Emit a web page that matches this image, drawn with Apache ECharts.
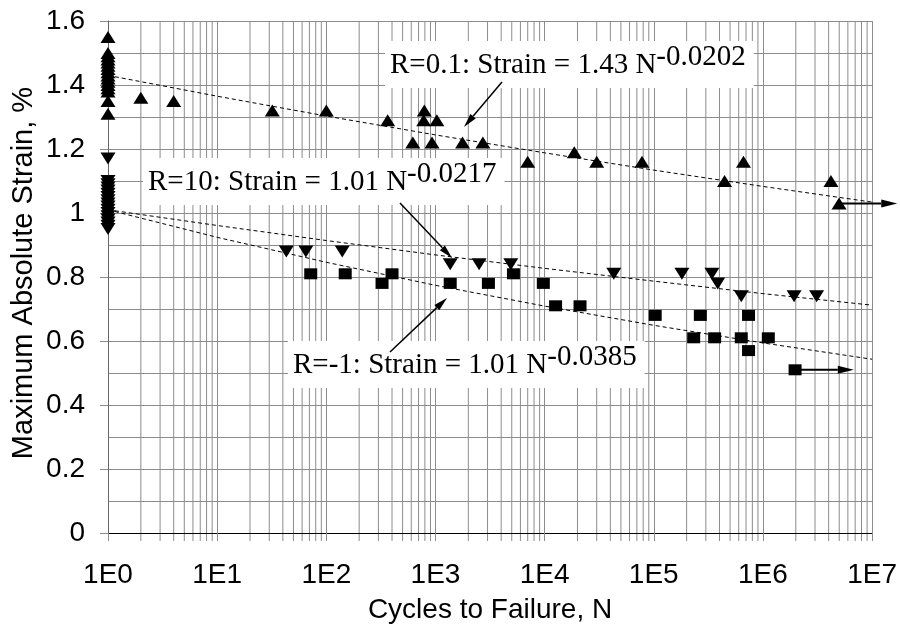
<!DOCTYPE html>
<html>
<head>
<meta charset="utf-8">
<style>
  html, body { margin: 0; padding: 0; background: #fff; }
  #chart { width: 900px; height: 629px; }
</style>
<script src="https://cdn.jsdelivr.net/npm/echarts@6/dist/echarts.min.js"></script>
</head>
<body>
<div id="chart"></div>
<script>
// R = 0.1 (upward triangles)
const r01Cycles = [1, 1, 1, 1, 1, 1, 1, 1, 1, 1, 1, 1, 1, 1, 1, 1,
  2, 4, 32, 100, 365, 790, 780, 1030, 620, 930, 1770, 2720,
  7000, 18700, 30000, 78000, 445000, 663000, 4200000, 4980000];
const r01Strain = [1.55, 1.50, 1.49, 1.48, 1.47, 1.46, 1.45, 1.44, 1.43, 1.42, 1.41, 1.40, 1.39, 1.38, 1.35, 1.31,
  1.36, 1.35, 1.32, 1.32, 1.29, 1.32, 1.29, 1.29, 1.22, 1.22, 1.22, 1.22,
  1.16, 1.19, 1.16, 1.16, 1.10, 1.16, 1.10, 1.03];

// R = 10 (downward triangles)
const r10Cycles = [1, 1, 1, 1, 1, 1, 1, 1, 1, 1, 1, 1, 1, 1, 1, 1, 1,
  43, 65, 140, 1365, 2510, 4900, 43000, 181000, 341000, 385000, 633000, 1930000, 3100000];
const r10Strain = [1.17, 1.10, 1.09, 1.08, 1.07, 1.06, 1.05, 1.04, 1.03, 1.02, 1.01, 1.00, 0.99, 0.98, 0.97, 0.96, 0.95,
  0.88, 0.88, 0.88, 0.84, 0.84, 0.84, 0.81, 0.81, 0.81, 0.78, 0.74, 0.74, 0.74];

// R = -1 (squares)
const rm1Cycles = [72, 149, 324, 400, 1365, 3055, 5180, 9730, 12600, 21100,
  103000, 267000, 738000, 232000, 361000, 633000, 1120000, 738000, 1970000];
const rm1Strain = [0.81, 0.81, 0.78, 0.81, 0.78, 0.78, 0.81, 0.78, 0.71, 0.71,
  0.68, 0.68, 0.68, 0.61, 0.61, 0.61, 0.61, 0.57, 0.51];

// fitted power-law trend lines, read at each decade
const trendCycles = [1, 10, 100, 1000, 10000, 100000, 1000000, 10000000];
const r01Trend = [1.430, 1.365, 1.303, 1.244, 1.188, 1.134, 1.083, 1.034];
const r10Trend = [1.010, 0.961, 0.914, 0.869, 0.827, 0.787, 0.748, 0.712];
const rm1Trend = [1.010, 0.924, 0.846, 0.774, 0.709, 0.649, 0.594, 0.543];

// run-out specimens: [from cycles, strain, arrow tip cycles]
const runouts = [[4980000, 1.03, 17000000], [1970000, 0.51, 6800000]];

const SANS = '"Liberation Sans", Arial, sans-serif';
const SERIF = '"Liberation Serif", "Times New Roman", serif';
const GRID = '#8c8c8c';

const zip = (xs, ys) => xs.map((x, i) => [x, ys[i]]);

const chart = echarts.init(document.getElementById('chart'), null, { renderer: 'canvas' });

const markerSeries = (name, xs, ys, symbol, size, rotate) => ({
  name,
  type: 'scatter',
  data: zip(xs, ys),
  symbol,
  symbolSize: size,
  symbolRotate: rotate || 0,
  itemStyle: { color: '#000', opacity: 1 },
  z: 3,
  silent: true
});

const trendSeries = (name, ys) => ({
  name,
  type: 'line',
  data: zip(trendCycles, ys),
  showSymbol: false,
  symbol: 'none',
  lineStyle: { color: '#000', width: 1, type: [4, 3] },
  z: 2,
  silent: true
});

chart.setOption({
  animation: false,
  grid: { left: 108, right: 26, top: 21, bottom: 92 },
  xAxis: {
    type: 'log',
    logBase: 10,
    min: 1,
    max: 10000000,
    splitNumber: 7,
    name: 'Cycles to Failure, N',
    nameLocation: 'middle',
    nameGap: 63,
    nameTextStyle: { fontFamily: SANS, fontSize: 28, color: '#000' },
    axisLine: { lineStyle: { color: '#000', width: 1 } },
    axisTick: { length: 8, lineStyle: { color: GRID } },
    axisLabel: {
      margin: 28,
      fontFamily: SANS,
      fontSize: 28,
      color: '#000',
      formatter: v => '1E' + Math.round(Math.log10(v))
    },
    splitLine: { show: true, lineStyle: { color: GRID, width: 1 } }
  },
  yAxis: {
    type: 'value',
    min: 0,
    max: 1.6,
    interval: 0.2,
    axisLine: { show: true, lineStyle: { color: '#666' } },
    axisTick: { show: true, length: 8, lineStyle: { color: GRID } },
    axisLabel: {
      margin: 23,
      fontFamily: SANS,
      fontSize: 28,
      color: '#000',
      formatter: v => String(+v.toFixed(1))
    },
    splitLine: { show: true, lineStyle: { color: GRID, width: 1 } },
    minorTick: { show: false, splitNumber: 2 },
    minorSplitLine: { show: true, lineStyle: { color: GRID, width: 1 } }
  },
  series: [
    trendSeries('R=0.1 fit', r01Trend),
    trendSeries('R=10 fit', r10Trend),
    trendSeries('R=-1 fit', rm1Trend),
    markerSeries('R=0.1', r01Cycles, r01Strain, 'triangle', [15, 12]),
    markerSeries('R=10', r10Cycles, r10Strain, 'triangle', [15, 12], 180),
    markerSeries('R=-1', rm1Cycles, rm1Strain, 'rect', [13, 11])
  ]
});

// minor log grid lines and ticks, annotations, run-out arrows
const px = (n, s) => chart.convertToPixel({ gridIndex: 0 }, [n, s]);

function arrow(x1, y1, x2, y2, headLen, headW, width, z) {
  const dx = x2 - x1, dy = y2 - y1;
  const L = Math.hypot(dx, dy);
  const ux = dx / L, uy = dy / L;
  const bx = x2 - ux * headLen, by = y2 - uy * headLen;
  return [
    { type: 'line', z, silent: true, shape: { x1, y1, x2: bx, y2: by },
      style: { stroke: '#000', lineWidth: width } },
    { type: 'polygon', z, silent: true,
      shape: { points: [[x2, y2], [bx - uy * headW / 2, by + ux * headW / 2], [bx + uy * headW / 2, by - ux * headW / 2]] },
      style: { fill: '#000' } }
  ];
}

const graphics = [];
for (let k = 0; k < 7; k++) {
  for (let m = 2; m <= 9; m++) {
    const v = m * Math.pow(10, k);
    const top = px(v, 1.6), bot = px(v, 0);
    graphics.push({ type: 'line', z: 0, silent: true,
      shape: { x1: bot[0], y1: bot[1], x2: top[0], y2: top[1] },
      style: { stroke: GRID, lineWidth: 1 } });
    graphics.push({ type: 'line', z: 0, silent: true,
      shape: { x1: bot[0], y1: bot[1], x2: bot[0], y2: bot[1] + 8 },
      style: { stroke: GRID, lineWidth: 1 } });
  }
}

// y axis title
graphics.push({
  type: 'text', x: 24, y: 273, rotation: Math.PI / 2, silent: true,
  style: {
    text: 'Maximum Absolute Strain, %',
    font: '29px ' + SANS,
    fill: '#000',
    align: 'center',
    verticalAlign: 'middle'
  }
});

runouts.forEach(([n, s, tip]) => {
  const a = px(n, s), b = px(tip, s);
  graphics.push(...arrow(a[0], a[1], b[0], b[1], 16, 8, 2, 20));
});

const eqRich = {
  m: { fontFamily: SERIF, fontSize: 29, lineHeight: 37, verticalAlign: 'bottom', color: '#000' },
  e: { fontFamily: SERIF, fontSize: 29, lineHeight: 37, verticalAlign: 'top', color: '#000' }
};
const labels = [
  { x: 385, y: 41, main: 'R=0.1: Strain = 1.43 N', exp: '-0.0202', arrow: [502, 82, 464, 127] },
  { x: 143, y: 158, main: 'R=10: Strain = 1.01 N', exp: '-0.0217', arrow: [400, 203, 452, 258] },
  { x: 288, y: 341, main: 'R=-1: Strain = 1.01 N', exp: '-0.0385', arrow: [390, 352, 447, 298] }
];
labels.forEach(l => {
  graphics.push({
    type: 'text', x: l.x, y: l.y, z: 30, silent: true,
    style: {
      text: '{m|' + l.main + '}{e|' + l.exp + '}',
      rich: eqRich,
      backgroundColor: '#fff',
      padding: [2, 8, 8, 5]
    }
  });
  const [x1, y1, x2, y2] = l.arrow;
  graphics.push(...arrow(x1, y1, x2, y2, 14, 7, 1.5, 31));
});

chart.setOption({ graphic: graphics });
</script>
</body>
</html>
